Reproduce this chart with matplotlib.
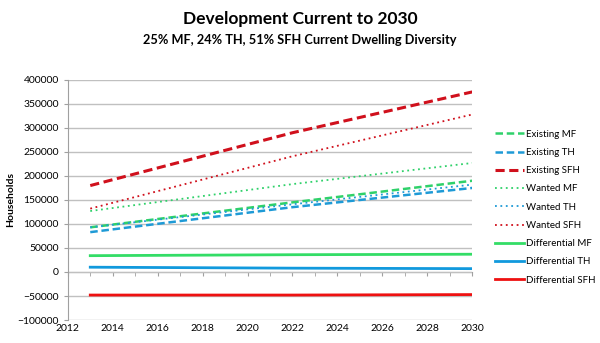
import numpy as np
import matplotlib
matplotlib.use("Agg")
import matplotlib.pyplot as plt
from matplotlib.ticker import MultipleLocator

plt.rcParams['font.family'] = ['Lato', 'DejaVu Sans']

# values (2013, 2022, 2030)
years = [2013, 2022, 2030]
existing_mf = [93000, 145000, 190000]
existing_th = [83000, 135000, 175000]
existing_sfh = [180000, 290000, 375000]
wanted_mf = [127000, 183000, 227000]
wanted_th = [93000, 141000, 182000]
wanted_sfh = [132000, 241000, 328000]
diff_mf = [34000, 36000, 37000]
diff_th = [10000, 8000, 7000]
diff_sfh = [-48000, -48000, -47000]

c_mf = '#2fd16a'
c_th = '#1e9ad6'
c_sfh = '#d0101c'

fig = plt.figure(figsize=(6.0, 3.43), dpi=100)
ax = fig.add_axes([0.113, 0.067, 0.674, 0.70])

ax.plot(years, existing_mf, color=c_mf, lw=1.8, ls=(0, (3, 1.5)), label='Existing MF')
ax.plot(years, existing_th, color=c_th, lw=1.8, ls=(0, (3, 1.5)), label='Existing TH')
ax.plot(years, existing_sfh, color=c_sfh, lw=2.2, ls=(0, (3, 1.5)), label='Existing SFH')
ax.plot(years, wanted_mf, color=c_mf, lw=1.3, ls=(0, (1, 2)), label='Wanted MF')
ax.plot(years, wanted_th, color=c_th, lw=1.3, ls=(0, (1, 2)), label='Wanted TH')
ax.plot(years, wanted_sfh, color=c_sfh, lw=1.3, ls=(0, (1, 2)), label='Wanted SFH')
ax.plot(years, diff_mf, color='#33dd66', lw=2.0, label='Differential MF')
ax.plot(years, diff_th, color='#1199dd', lw=2.0, label='Differential TH')
ax.plot(years, diff_sfh, color='#ee1111', lw=2.0, label='Differential SFH')

ax.set_xlim(2012, 2030)
ax.set_ylim(-100000, 400000)
ax.xaxis.set_major_locator(MultipleLocator(2))
ax.yaxis.set_major_locator(MultipleLocator(50000))
ax.grid(axis='y', color='#c0c0c0', lw=1.0)
ax.set_axisbelow(True)
for s in ['top', 'right', 'bottom']:
    ax.spines[s].set_visible(False)
ax.spines['left'].set_color('#a0a0a0')
ax.tick_params(axis='x', length=0, labelsize=7.5, pad=3)
ax.tick_params(axis='y', length=3, color='#a0a0a0', labelsize=7.5, direction='out')

# horizontal axis crossing at zero
sec = ax.secondary_xaxis(0.2)
sec.xaxis.set_major_locator(MultipleLocator(2))
sec.xaxis.set_minor_locator(MultipleLocator(1))
sec.tick_params(which='both', length=3, color='#a0a0a0', labelbottom=False, direction='out')
sec.spines['bottom'].set_color('#a0a0a0')

ax.set_ylabel('Households', fontsize=7.5, fontweight='bold')
ax.yaxis.set_label_coords(-0.131, 0.5)

fig.text(0.5, 0.93, 'Development Current to 2030', ha='center', fontsize=12.5, fontweight='bold')
fig.text(0.5, 0.872, '25% MF, 24% TH, 51% SFH Current Dwelling Diversity', ha='center',
         fontsize=9.2, fontweight='bold')

ax.legend(loc='center left', bbox_to_anchor=(1.035, 0.47), frameon=False, fontsize=7,
          handlelength=3.0, handletextpad=0.2, labelspacing=0.95)

fig.savefig('out.png', dpi=100)
